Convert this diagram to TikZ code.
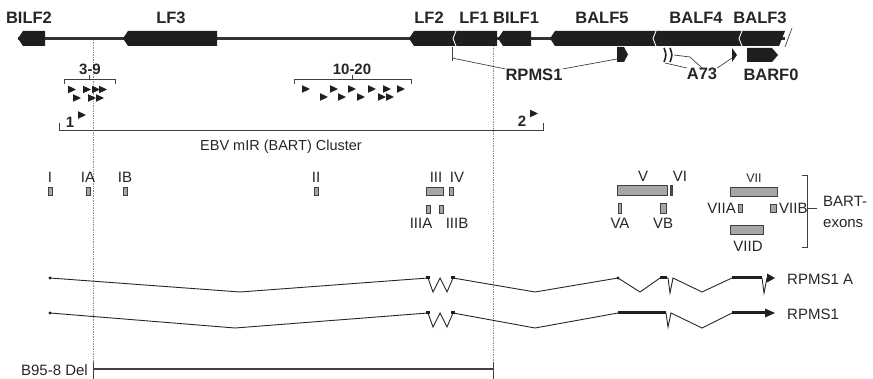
\documentclass[tikz,border=0pt]{standalone}
\usepackage{fontspec}
\setmainfont{Liberation Sans}
\usetikzlibrary{arrows.meta,calc,positioning}

\begin{document}
\begin{tikzpicture}[x=1pt,y=-1pt,>=Latex]
  \tikzstyle{gene}=[fill=black!88]
  \tikzstyle{genelab}=[font=\fontsize{16.5}{17}\selectfont\bfseries,text=black!85,inner sep=0pt]
  \tikzstyle{numlab}=[font=\fontsize{15}{16}\selectfont\bfseries,text=black!85,inner sep=0pt]
  \tikzstyle{lab}=[font=\fontsize{15}{16}\selectfont,text=black!85,inner sep=0pt]
  \tikzstyle{exon}=[draw=black!75,fill=black!35,line width=0.6pt]
  \tikzstyle{guide}=[draw=black!45,densely dotted,line width=0.7pt]
  \tikzstyle{conn}=[draw=black!75,line width=0.7pt]
  \tikzstyle{tx}=[draw=black!85,line width=0.9pt]
  \useasboundingbox (0,0) rectangle (873,379);

  % guides
  \draw[guide] (93,40) -- (93,379);
  \draw[guide] (493,46) -- (493,379);

  % genome
  \draw[black!80,line width=2.2pt] (18,38.5) -- (785,38.5);
  \foreach \a/\b in {18/45,123/217,409/497,498/531,550/738}
    \fill[gene] (\a,38.5) -- (\a+5,31) -- (\b,31) -- (\b,46) -- (\a+5,46) -- cycle;
  \fill[gene] (738,31) -- (785,31) -- (779,46) -- (738,46) -- cycle;
  \foreach \x in {453,653,739}
    \draw[white,line width=0.9pt] (\x+3,31) -- (\x,38.5) -- (\x+3,46);
  \draw[conn] (785,47) -- (792,28);

  \node[genelab] (bilf2) at (29,18) {BILF2};
  \node[genelab] (lf3) at (171,18) {LF3};
  \node[genelab] (lf2) at (429,18) {LF2};
  \node[genelab] (lf1) at (474,18) {LF1};
  \node[genelab] (bilf1) at (516,18) {BILF1};
  \node[genelab] (balf5) at (602,18) {BALF5};
  \node[genelab] (balf4) at (696,18) {BALF4};
  \node[genelab] (balf3) at (760,18) {BALF3};

  % RPMS1, A73, BARF0
  \fill[gene] (617,47) -- (624,47) -- (628,54.5) -- (624,62) -- (617,62) -- cycle;
  \coordinate (rx) at (617,59);
  \fill[gene] (747,48) -- (772,48) -- (778,55) -- (772,62) -- (747,62) -- cycle;
  \draw[black!88,line width=1.6pt] (664,48) .. controls (666.5,55) .. (664,62);
  \draw[black!88,line width=1.6pt] (670,48) .. controls (672.5,55) .. (670,62);
  \fill[gene] (732,48) -- (737,55) -- (732,62) -- cycle;
  \node[genelab] (rpms1) at (534,75) {RPMS1};
  \node[genelab] (a73) at (702,74) {A73};
  \node[genelab] (barf0) at (771,75) {BARF0};
  \draw[conn] (452,47) -- (452,61);
  \draw[conn] (452,58) -- (rpms1.north west);
  \draw[conn] (rpms1.north east) -- (rx);
  \draw[conn] (665,63) -- (a73.north west);
  \draw[conn] (674,55) -- (690,57) -- (a73.north);
  \draw[conn] (a73.north east) -- (732,58);

  % miR clusters
  \draw[conn,line width=0.9pt] (64,84) -- (64,79) -- (115,79) -- (115,84) (89.5,79) -- (89.5,75);
  \draw[conn,line width=0.9pt] (294,84) -- (294,79) -- (411,79) -- (411,84) (352,79) -- (352,75);
  \node[numlab] (c39) at (90,69) {3-9};
  \node[numlab] (c1020) at (352,69) {10-20};
  \foreach \x/\y in {68/89.5,83/89.5,92/89.5,99/89.5,73/98,88/98,96/98,
                     302/89,330/89,348/89,368/89,383/89,397/89,
                     320/97,338/97,357/97,378/97,386/97,
                     78/115,530/113.5}
    \fill[black!88] (\x,\y-3.8) -- (\x+8,\y) -- (\x,\y+3.8) -- cycle;
  \node[numlab] (p1) at (70,122) {1};
  \node[numlab] (p2) at (522,121) {2};
  \draw[conn,line width=0.9pt] (59,123) -- (59,130) -- (543,130) -- (543,123);
  \node[lab,font=\fontsize{14.5}{15}\selectfont] (bart) at (281,147) {EBV mIR (BART) Cluster};

  % BART exons
  \foreach \x/\t in {50/I,88/IA,125/IB,316/II}{
    \draw[exon] (\x-2,187) rectangle (\x+2,195);
    \node[lab] at (\x,177) {\t};
  }
  \draw[exon] (426,187) rectangle (443,195);
  \draw[exon] (449,187) rectangle (453,195);
  \draw[exon] (426,205) rectangle (430,213);
  \draw[exon] (439,205) rectangle (443,213);
  \node[lab] (e3) at (436,177) {III};
  \node[lab] (e4) at (457,177) {IV};
  \node[lab] (e3a) at (421,223) {IIIA};
  \node[lab] (e3b) at (457,223) {IIIB};
  \draw[exon] (617,185) rectangle (667,195);
  \draw[exon,fill=black!70] (670,185) rectangle (672.5,195);
  \draw[exon] (618,203) rectangle (621,213);
  \draw[exon] (660,203) rectangle (666,213);
  \node[lab] (e5) at (643,176) {V};
  \node[lab] (e6) at (680,176) {VI};
  \node[lab] (e5a) at (620,223) {VA};
  \node[lab] (e5b) at (663,223) {VB};
  \draw[exon] (730,187) rectangle (777,196);
  \draw[exon] (738,204) rectangle (742,212);
  \draw[exon] (770,204) rectangle (776,212);
  \draw[exon] (730,225) rectangle (763,234);
  \node[lab,font=\fontsize{12.5}{13}\selectfont] (e7) at (754,178) {VII};
  \node[lab,anchor=east] (e7a) at (736,208) {VIIA};
  \node[lab,anchor=west] (e7b) at (779,208) {VIIB};
  \node[lab] (e7d) at (748,246) {VIID};
  \draw[conn,line width=0.9pt] (802,175) -- (807,175) -- (807,247) -- (802,247) (807,208) -- (817,208);
  \node[lab,anchor=west] (bx1) at (823,201) {BART-};
  \node[lab,anchor=west] (bx2) at (823,224) {exons};

  % transcripts
  \draw[tx] (50,278) -- (240,292) -- (428,278) -- (433,292) -- (440,278) -- (447,292) -- (453,278)
    -- (535,292) -- (618,278) -- (640,292) -- (660,278) -- (668,278) -- (670,293) -- (673,278)
    -- (702,292) -- (732,278) -- (762,278) -- (764,293) -- (767,278) -- (769,278);
  \draw[black!88,line width=3pt] (732,278) -- (762,278) (660,278) -- (667,278)
    (426,278) -- (430,278) (451,278) -- (455,278);
  \fill[black!88] (767,273.5) -- (775,278) -- (767,282.5) -- cycle;
  \fill[black!88] (50,278) circle (1.7) (618,278) circle (1.7);
  \node[lab,anchor=west] (ta) at (787,279) {RPMS1 A};

  \draw[tx] (50,313) -- (235,328) -- (428,313) -- (433,327) -- (440,313) -- (447,327) -- (453,313)
    -- (535,328) -- (618,313) -- (666,313) -- (668,327) -- (671,313) -- (702,328) -- (732,313) -- (766,313);
  \draw[black!88,line width=3pt] (618,313) -- (666,313) (732,313) -- (766,313)
    (426,313) -- (430,313) (451,313) -- (455,313);
  \fill[black!88] (765,308.5) -- (775,313) -- (765,317.5) -- cycle;
  \fill[black!88] (50,313) circle (1.7);
  \node[lab,anchor=west] (tb) at (787,314) {RPMS1};

  % deletion
  \node[lab,anchor=east] (del) at (88,370) {B95-8 Del};
  \draw[black!75,line width=1.6pt] (93,369) -- (493,369);
  \draw[conn,line width=0.9pt] (93,362) -- (93,379) (493,362) -- (493,379);
\end{tikzpicture}
\end{document}
